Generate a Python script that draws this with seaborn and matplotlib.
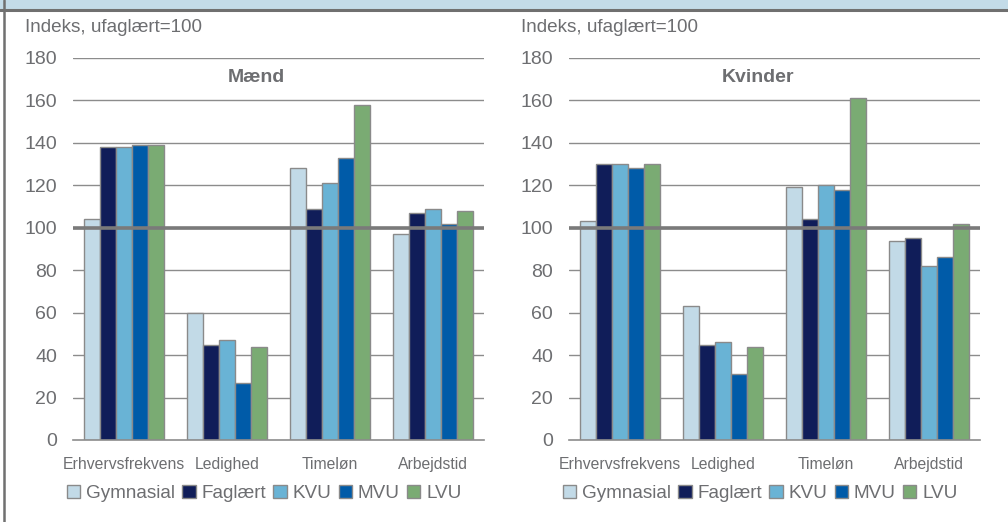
import numpy as np
import pandas as pd
import seaborn as sns
import matplotlib.pyplot as plt
from matplotlib.patches import Rectangle
from matplotlib.lines import Line2D

# 数据
kategorier = ['Erhvervsfrekvens', 'Ledighed', 'Timeløn', 'Arbejdstid']
uddannelser = ['Gymnasial', 'Faglært', 'KVU', 'MVU', 'LVU']
farver = ['#c2dae7', '#101d59', '#69b3d5', '#005ba8', '#7aab73']

maend_gymnasial = [104, 60, 128, 97]
maend_faglaert = [138, 45, 109, 107]
maend_kvu = [138, 47, 121, 109]
maend_mvu = [139, 27, 133, 102]
maend_lvu = [139, 44, 158, 108]

kvinder_gymnasial = [103, 63, 119, 94]
kvinder_faglaert = [130, 45, 104, 95]
kvinder_kvu = [130, 46, 120, 82]
kvinder_mvu = [128, 31, 118, 86]
kvinder_lvu = [130, 44, 161, 102]

y_ticks = [0, 20, 40, 60, 80, 100, 120, 140, 160, 180]


def lav_df(serier):
    rows = []
    for udd, vals in zip(uddannelser, serier):
        for kat, v in zip(kategorier, vals):
            rows.append({'kategori': kat, 'uddannelse': udd, 'indeks': v})
    return pd.DataFrame(rows)


df_m = lav_df([maend_gymnasial, maend_faglaert, maend_kvu, maend_mvu, maend_lvu])
df_k = lav_df([kvinder_gymnasial, kvinder_faglaert, kvinder_kvu, kvinder_mvu, kvinder_lvu])

sns.set_style('white')
plt.rcParams['font.family'] = ['Liberation Sans', 'DejaVu Sans']
tekst = '#6d6e71'
gitter = '#8c8c8c'

fig = plt.figure(figsize=(10.08, 5.22), dpi=100)

# ramme øverst og til venstre
fig.patches.append(Rectangle((0, 1 - 8 / 522), 1, 8 / 522, transform=fig.transFigure,
                             color='#c3dbe8', zorder=0))
fig.lines.append(Line2D([0, 1], [1 - 9.5 / 522] * 2, transform=fig.transFigure,
                        color='#707070', lw=2.2))
fig.lines.append(Line2D([4 / 1008] * 2, [0, 1], transform=fig.transFigure,
                        color='#707070', lw=1.8))

paneler = [(df_m, 'Mænd', 73, 256), (df_k, 'Kvinder', 569, 758)]
for df, titel, x0, tx in paneler:
    ax = fig.add_axes([x0 / 1008, 82 / 522, 411 / 1008, 382 / 522])
    sns.barplot(data=df, x='kategori', y='indeks', hue='uddannelse',
                hue_order=uddannelser, palette=farver, width=0.78,
                edgecolor='#8a8a8a', linewidth=1.0, saturation=1, ax=ax, zorder=3)
    ax.set_ylim(0, 180)
    ax.set_xlim(-0.5, 3.5)
    ax.set_yticks(y_ticks)
    for y in y_ticks[1:]:
        ax.axhline(y, color=gitter, lw=1.0, zorder=1)
    ax.axhline(100, color='#7a7a7a', lw=2.6, zorder=4)
    for s in ['top', 'right', 'left']:
        ax.spines[s].set_visible(False)
    ax.spines['bottom'].set_color(gitter)
    ax.spines['bottom'].set_linewidth(1.2)
    ax.spines['bottom'].set_zorder(5)
    ax.set_xticks(np.arange(-0.5, 4, 1), minor=True)
    ax.tick_params(axis='x', which='minor', length=6, width=1.2, color=gitter, direction='out')
    ax.tick_params(axis='x', which='major', length=0, pad=12, labelsize=11.3, labelcolor=tekst)
    ax.tick_params(axis='y', length=0, pad=11.5, labelsize=14, labelcolor=tekst)
    ax.set_xlabel('')
    ax.set_ylabel('')
    ax.text((tx - x0) / 411, 0.948, titel, transform=ax.transAxes, ha='center', va='center',
            fontsize=14, fontweight='bold', color=tekst)
    fig.text((x0 - 48) / 1008, 1 - 27 / 522, 'Indeks, ufaglært=100', ha='left', va='center',
             fontsize=13.6, color=tekst)
    ax.legend(loc='center', bbox_to_anchor=(0.465, -0.14), ncol=5, frameon=False,
              fontsize=13.6, handlelength=0.7, handleheight=0.7, handletextpad=0.3,
              columnspacing=0.4, labelcolor=tekst)

fig.savefig('out.png', dpi=100)
